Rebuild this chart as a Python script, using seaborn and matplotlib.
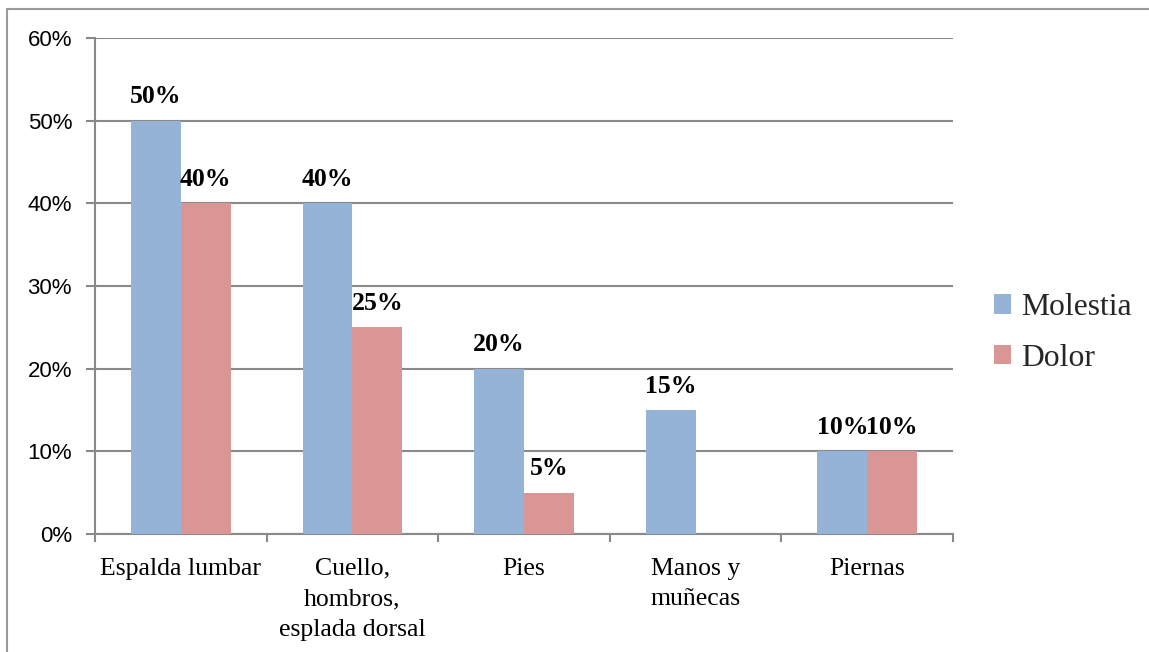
import matplotlib
matplotlib.use("Agg")
import matplotlib.pyplot as plt
from matplotlib.lines import Line2D
from matplotlib.ticker import FixedLocator, FuncFormatter
import seaborn as sns
import pandas as pd

categories = ["Espalda lumbar", "Cuello,\nhombros,\nesplada dorsal", "Pies",
              "Manos y\nmuñecas", "Piernas"]
molestia = [50, 40, 20, 15, 10]
dolor = [40, 25, 5, 0, 10]
series_names = ["Molestia", "Dolor"]
colors = ["#95B3D7", "#D99694"]
y_ticks = [0, 10, 20, 30, 40, 50, 60]

df = pd.DataFrame({
    "zona": categories * 2,
    "valor": molestia + dolor,
    "tipo": [series_names[0]] * len(categories) + [series_names[1]] * len(categories),
})

sns.set_style("white")
grid_col = "#898989"

fig = plt.figure(figsize=(11.49, 6.52), dpi=100)
ax = fig.add_axes([95 / 1149, 1 - 534 / 652, (953 - 95) / 1149, (534 - 38) / 652])

sns.barplot(data=df, x="zona", y="valor", hue="tipo", palette=colors,
            width=0.58, gap=0, saturation=1, linewidth=0, ax=ax, zorder=3)

ax.set_xlim(-0.5, len(categories) - 0.5)
ax.set_ylim(0, 60)
ax.set_yticks(y_ticks)
ax.yaxis.set_major_formatter(FuncFormatter(lambda v, p: f"{v:.0f}%"))
ax.grid(axis="y", color=grid_col, linewidth=1.5, zorder=0)
ax.set_axisbelow(True)
ax.set_xlabel("")
ax.set_ylabel("")

for side in ["top", "right"]:
    ax.spines[side].set_visible(False)
for side in ["left", "bottom"]:
    ax.spines[side].set_color(grid_col)
    ax.spines[side].set_linewidth(1.5)

ax.tick_params(axis="y", direction="out", length=6.5, width=1.5, color=grid_col,
               pad=10, labelsize=16, labelcolor="black", left=True)
for lbl in ax.get_yticklabels():
    lbl.set_fontfamily("Liberation Sans")

ax.tick_params(axis="x", which="major", length=0, pad=17, labelsize=18.5,
               labelcolor="black")
ax.xaxis.set_minor_locator(FixedLocator([i - 0.5 for i in range(len(categories) + 1)]))
ax.tick_params(axis="x", which="minor", direction="out", length=6, width=1.5,
               color=grid_col, bottom=True)
for lbl in ax.get_xticklabels():
    lbl.set_fontfamily("Liberation Serif")
    lbl.set_linespacing(1.5)
    lbl.set_horizontalalignment("center")
    lbl.set_verticalalignment("top")

for cont in ax.containers:
    labels = [f"{b.get_height():.0f}%" if b.get_height() > 0 else "" for b in cont]
    ax.bar_label(cont, labels=labels, padding=9, fontsize=18.5, fontweight="bold",
                 fontfamily="Liberation Serif", color="black")

handles, labs = ax.get_legend_handles_labels()
ax.get_legend().remove()
fig.legend(handles, labs, loc="center left", bbox_to_anchor=(994 / 1149, 1 - 333 / 652),
           frameon=False, borderpad=0, borderaxespad=0, handlelength=0.55,
           handleheight=0.55, handletextpad=0.3, labelspacing=0.68,
           prop={"family": "Liberation Serif", "size": 22.8})

# outer chart frame
fig.add_artist(Line2D([7 / 1149, 7 / 1149], [0, 1 - 9 / 652], transform=fig.transFigure,
                      color="#9a9a9a", linewidth=1.5))
fig.add_artist(Line2D([7 / 1149, 1], [1 - 9 / 652, 1 - 9 / 652], transform=fig.transFigure,
                      color="#9a9a9a", linewidth=1.5))

fig.savefig("out.png", dpi=100)
